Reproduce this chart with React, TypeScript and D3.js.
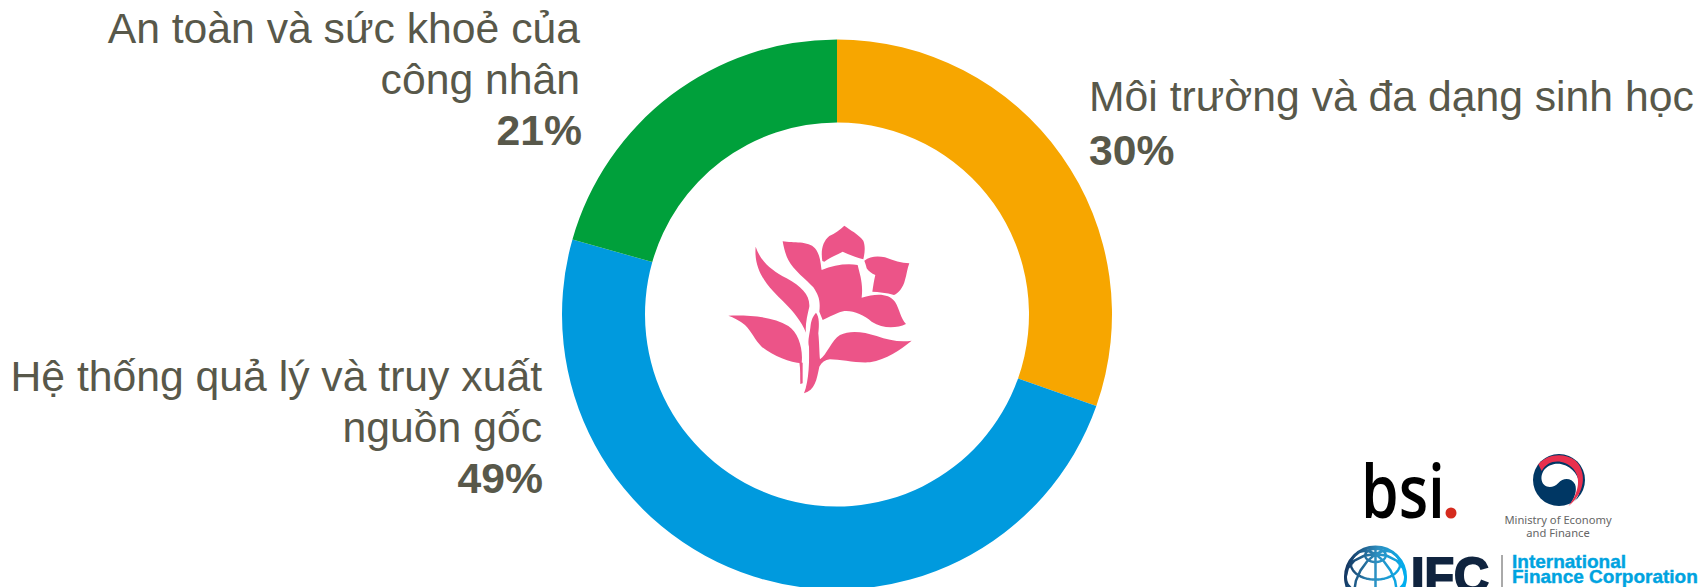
import React from "react";
import * as d3 from "d3";

const categories = ["Môi trường và đa dạng sinh học", "Hệ thống quả lý và truy xuất nguồn gốc", "An toàn và sức khoẻ của công nhân"];
const values = [30.4, 49, 20.6];
const percentLabels = ["30%", "49%", "21%"];
const colors = ["#F7A600", "#009ADE", "#00A03B"];

const labelLines = [
  [{ t: "Môi trường và đa dạng sinh học", x: 1089, y: 111, a: "start" }, { t: percentLabels[0], x: 1089, y: 165, a: "start", b: true }],
  [{ t: "Hệ thống quả lý và truy xuất", x: 542, y: 391, a: "end" }, { t: "nguồn gốc", x: 542, y: 442, a: "end" }, { t: percentLabels[1], x: 543, y: 493, a: "end", b: true }],
  [{ t: "An toàn và sức khoẻ của", x: 580, y: 43, a: "end" }, { t: "công nhân", x: 580, y: 94, a: "end" }, { t: percentLabels[2], x: 582, y: 145, a: "end", b: true }],
];

const cx = 837, cy = 314.5, rOuter = 275, rInner = 192;
const TEXT = "#58584A";
const SANS = "'Liberation Sans', Arial, sans-serif";

const flower = [
  "M397,183 C392,150 398,125 418,108 C435,100 450,90 463,77 C480,90 505,102 520,122 C527,140 524,160 520,178 C500,172 478,165 458,155 C440,165 420,172 403,185 Z",
  "M523,182 C540,168 565,168 585,172 C610,182 635,190 658,190 C652,205 650,225 645,240 C640,262 625,280 612,285 C590,278 565,276 547,275 C550,258 552,240 556,225 C545,222 535,212 530,205 C528,195 525,188 523,182 Z",
  "M278,124 C310,130 355,122 375,145 C392,165 392,195 395,210 C430,195 470,190 503,195 C510,225 520,250 515,293 C560,280 595,280 615,305 C630,330 632,355 648,372 C620,385 580,388 545,365 C515,340 475,325 445,338 C430,345 412,352 398,360 L388,335 C392,300 385,285 370,262 C350,240 310,210 295,180 C285,160 282,145 278,124 Z",
  "M197,140 C210,180 240,210 290,235 C335,260 360,285 358,320 C352,345 345,375 348,398 C335,365 310,335 285,310 C240,265 190,220 197,140 Z",
  "M115,347 C180,345 250,350 295,378 C325,398 340,445 335,490 C300,487 250,468 215,440 C195,420 185,395 165,375 C150,362 130,352 115,347 Z",
  "M328,486 L338,488 L338,550 L331,552 C330,530 332,510 328,486 Z",
  "M342,580 C358,540 358,480 357,440 C352,420 360,400 362,375 C365,355 372,345 378,338 C388,350 388,375 385,400 C388,430 388,460 390,478 C410,465 425,420 450,405 C480,390 520,395 560,408 C595,420 630,428 665,422 C630,450 590,478 540,487 C500,490 450,478 420,478 C405,480 395,487 388,500 C380,540 375,570 342,580 Z",
];

const ministryRed = "M55,52 C80,22 130,15 165,40 C195,65 205,130 145,178 C175,140 185,95 160,65 C130,35 85,35 65,72 Z";
const ministryWhite = "M65,100 C60,65 95,45 125,52 C160,60 178,90 180,120 C180,145 165,165 145,178 C165,155 172,130 165,112 C155,92 130,90 115,108 C100,125 70,125 65,100 Z";

export default function App() {
  const pie = d3.pie<number>().sort(null)(values);
  const arc = d3.arc<d3.PieArcDatum<number>>().innerRadius(rInner).outerRadius(rOuter);
  const globe = d3.geoOrthographic().scale(30).translate([1375.5, 577]).rotate([0, -40]).clipAngle(90);
  const globePath = d3.geoPath(globe);
  const grid = d3.geoGraticule().step([45, 35])();
  return (
    <svg width={1701} height={587} style={{ position: "absolute", left: 0, top: 0, display: "block", background: "#fff" }}>
      <defs>
        <linearGradient id="gl" gradientUnits="userSpaceOnUse" x1={1345} y1={560} x2={1406} y2={570}>
          <stop offset="0" stopColor="#12305A" />
          <stop offset="0.5" stopColor="#2E8FC0" />
          <stop offset="1" stopColor="#00AEEF" />
        </linearGradient>
      </defs>
      <g transform={`translate(${cx},${cy})`}>
        {pie.map((d, i) => <path key={i} d={arc(d) || ""} fill={colors[i]} />)}
      </g>
      <g transform="translate(690,200) scale(0.3333)" fill="#EC5488">
        {flower.map((d, i) => <path key={i} d={d} />)}
      </g>
      {labelLines.flat().map((l: any, i) => (
        <text key={i} x={l.x} y={l.y} textAnchor={l.a} fontFamily={SANS} fontSize={42.7} fontWeight={l.b ? 700 : 400} fill={TEXT}>{l.t}</text>
      ))}
      {/* bsi */}
      <text x={1361} y={518} textLength={84} lengthAdjust="spacingAndGlyphs" fontFamily="'Open Sans', sans-serif" fontWeight={600} fontSize={74} fill="#000">bsi</text>
      <circle cx={1451} cy={513} r={5.5} fill="#D52B1E" />
      {/* Ministry */}
      <circle cx={1559} cy={480} r={26} fill="#003764" />
      <g transform="translate(1520,447) scale(0.3333)">
        <path d={ministryWhite} fill="#fff" />
        <path d={ministryRed} fill="#E8304E" />
      </g>
      <text x={1558} y={524} textAnchor="middle" fontFamily="'Noto Sans', sans-serif" fontSize={11.2} fill="#666">Ministry of Economy</text>
      <text x={1558} y={537} textAnchor="middle" fontFamily="'Noto Sans', sans-serif" fontSize={11.2} fill="#666">and Finance</text>
      {/* IFC */}
      <path d={globePath(grid) || ""} fill="none" stroke="url(#gl)" strokeWidth={2.5} />
      <circle cx={1375.5} cy={577} r={30} fill="none" stroke="url(#gl)" strokeWidth={3} />
      <text x={1411} y={593} textLength={78} lengthAdjust="spacingAndGlyphs" fontFamily={SANS} fontWeight={700} fontSize={50} stroke="#10243F" strokeWidth={2} fill="#10243F">IFC</text>
      <line x1={1502} x2={1502} y1={555} y2={587} stroke="#555" strokeWidth={1} />
      <text x={1512} y={568} fontFamily={SANS} fontWeight={700} fontSize={19} stroke="#00A3E0" strokeWidth={0.4} fill="#00A3E0">International</text>
      <text x={1512} y={583} fontFamily={SANS} fontWeight={700} fontSize={19} stroke="#00A3E0" strokeWidth={0.4} fill="#00A3E0">Finance Corporation</text>
    </svg>
  );
}
